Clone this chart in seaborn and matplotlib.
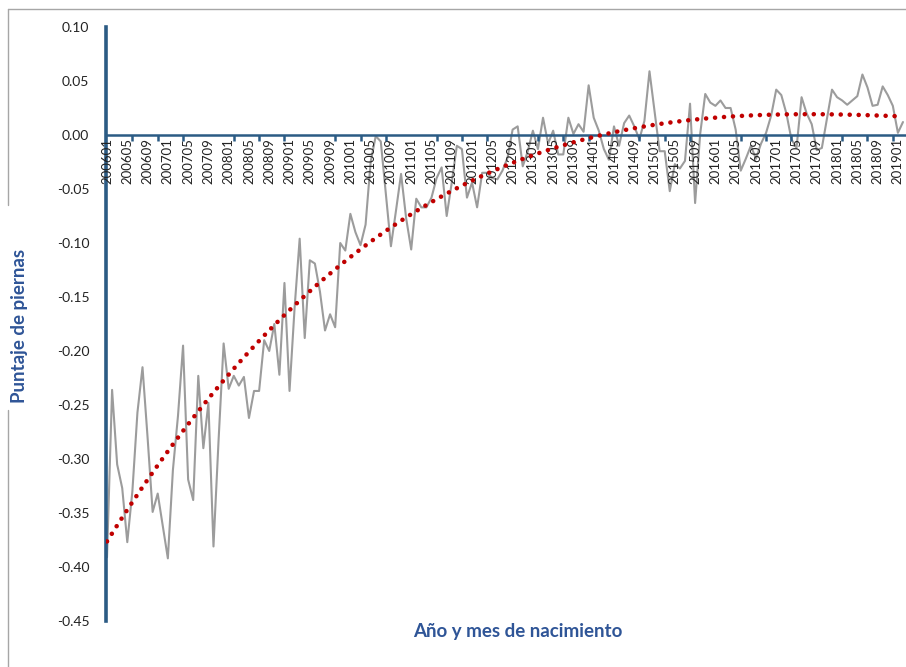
"""
Puntaje de piernas por año y mes de nacimiento, con tendencia polinómica.
"""

import numpy as np
import pandas as pd
import matplotlib.pyplot as plt
from matplotlib.lines import Line2D
from matplotlib.ticker import FixedLocator, MultipleLocator, FuncFormatter
import seaborn as sns

# Meses de nacimiento (200601 ... 201902)
meses = pd.period_range("2006-01", "2019-02", freq="M").strftime("%Y%m").tolist()

# Puntaje mensual, un año por línea
puntaje = [
    -0.391, -0.236, -0.305, -0.327, -0.377, -0.330, -0.257, -0.215, -0.280, -0.349, -0.332, -0.362,
    -0.392, -0.310, -0.260, -0.195, -0.319, -0.338, -0.223, -0.290, -0.248, -0.381, -0.283, -0.193,
    -0.235, -0.223, -0.232, -0.224, -0.262, -0.237, -0.237, -0.190, -0.200, -0.175, -0.222, -0.137,
    -0.237, -0.160, -0.096, -0.188, -0.116, -0.119, -0.145, -0.181, -0.166, -0.178, -0.100, -0.107,
    -0.073, -0.090, -0.102, -0.083, -0.025, -0.001, -0.006, -0.055, -0.103, -0.070, -0.036, -0.077,
    -0.106, -0.059, -0.067, -0.067, -0.058, -0.040, -0.030, -0.075, -0.044, -0.010, -0.013, -0.058,
    -0.044, -0.067, -0.035, -0.035, -0.040, -0.041, -0.033, -0.021, 0.005, 0.008, -0.029, -0.015,
    0.004, -0.013, 0.016, -0.008, 0.004, -0.018, -0.018, 0.016, 0.001, 0.010, 0.003, 0.046,
    0.016, 0.004, -0.013, -0.023, 0.008, -0.010, 0.011, 0.018, 0.008, -0.004, 0.013, 0.059,
    0.022, -0.015, -0.015, -0.052, -0.027, -0.031, -0.024, 0.029, -0.063, 0.001, 0.038, 0.030,
    0.027, 0.032, 0.025, 0.025, 0.005, -0.033, -0.022, -0.010, -0.022, -0.008, 0.002, 0.018,
    0.042, 0.037, 0.020, -0.004, -0.012, 0.035, 0.020, 0.010, -0.014, -0.012, 0.015, 0.042,
    0.035, 0.032, 0.028, 0.032, 0.036, 0.056, 0.044, 0.027, 0.028, 0.045, 0.037, 0.027,
    0.002, 0.012,
]

y_ticks = [0.10, 0.05, 0.00, -0.05, -0.10, -0.15, -0.20, -0.25, -0.30, -0.35, -0.40, -0.45]

AZUL_EJE = "#2B5B84"
AZUL_TEXTO = "#2F5597"

df = pd.DataFrame({"pos": np.arange(len(meses)), "mes": meses, "valor": puntaje})

sns.set_style("white")
plt.rcParams["font.family"] = ["Lato", "DejaVu Sans"]
plt.rcParams["axes.unicode_minus"] = False

fig = plt.figure(figsize=(9.06, 6.67), dpi=100)
ax = fig.add_axes([106 / 906, 1 - 621 / 667, (905 - 106) / 906, (621 - 27) / 667])

sns.lineplot(data=df, x="pos", y="valor", estimator=None, color="#9C9C9C", lw=1.5, ax=ax, zorder=2)
sns.regplot(
    data=df, x="pos", y="valor", order=3, ci=None, scatter=False, ax=ax,
    line_kws={"color": "#C00000", "lw": 3.3, "linestyle": (0, (0.01, 1.95)),
              "dash_capstyle": "round", "zorder": 4},
)

ax.set_xlim(-0.2, 157.4)
ax.set_ylim(-0.45, 0.10)

# ejes
for lado in ["top", "right"]:
    ax.spines[lado].set_visible(False)
ax.spines["left"].set_color(AZUL_EJE)
ax.spines["left"].set_linewidth(2.6)
ax.spines["bottom"].set_position(("data", 0))
ax.spines["bottom"].set_color(AZUL_EJE)
ax.spines["bottom"].set_linewidth(1.8)
ax.xaxis.set_zorder(3)

ax.yaxis.set_major_locator(FixedLocator(y_ticks))
ax.yaxis.set_major_formatter(FuncFormatter(lambda v, _: f"{v:.2f}"))
ax.tick_params(axis="y", length=4, width=2, color=AZUL_EJE, labelsize=10, labelcolor="#222222", pad=8)

etiquetas = list(range(0, len(meses), 4))
ax.xaxis.set_major_locator(FixedLocator(etiquetas))
ax.set_xticklabels([meses[i] for i in etiquetas], rotation=90)
ax.xaxis.set_minor_locator(MultipleLocator(5))
ax.tick_params(axis="x", which="major", length=0, labelsize=9.5, labelcolor="#222222", pad=2)
ax.tick_params(axis="x", which="minor", bottom=True, length=4, width=1.8, color=AZUL_EJE)

ax.set_xlabel("")
ax.set_ylabel("")

fig.text(518 / 906, 1 - 632 / 667, "Año y mes de nacimiento", ha="center", va="center",
         fontsize=13.5, fontweight="bold", color=AZUL_TEXTO)
fig.text(20 / 906, 1 - 326 / 667, "Puntaje de piernas", ha="center", va="center", rotation=90,
         fontsize=13.5, fontweight="bold", color=AZUL_TEXTO)

# marco del gráfico
gris = "#A6A6A6"
fig.add_artist(Line2D([8 / 906, 1], [1 - 9 / 667, 1 - 9 / 667], color=gris, lw=1))
fig.add_artist(Line2D([8 / 906, 8 / 906], [1 - 9 / 667, 1 - 205 / 667], color=gris, lw=1))
fig.add_artist(Line2D([8 / 906, 8 / 906], [1 - 410 / 667, 0], color=gris, lw=1))

fig.savefig("out.png", dpi=100)
